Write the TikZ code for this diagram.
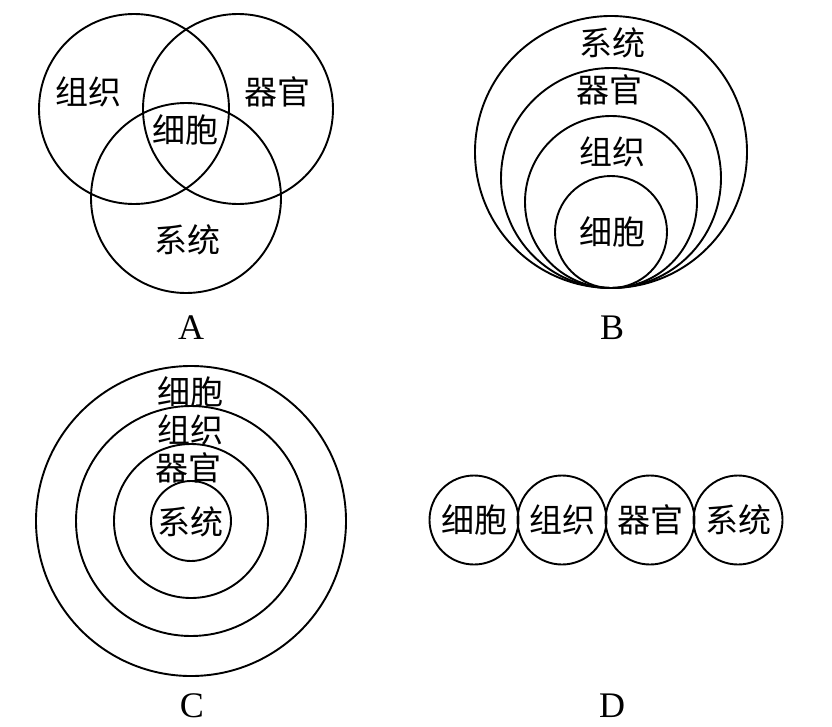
\documentclass[tikz,border=0pt]{standalone}
\usepackage{fontspec}
\setmainfont{Liberation Serif}
\newfontfamily\cjk{Noto Sans CJK SC}
\begin{document}
\begin{tikzpicture}[x=1pt,y=-1pt,
  ring/.style={circle,draw,line width=1.9pt,inner sep=0pt,minimum size=#1},
  word/.style={inner sep=0pt,font=\cjk\fontsize{33}{36}\selectfont},
  panel/.style={inner sep=0pt,font=\fontsize{36}{40}\selectfont}]
\useasboundingbox (0,0) rectangle (832,726);
% Panel A
\node[ring=190pt] (a1) at (134,109) {};
\node[ring=190pt] (a2) at (238,109) {};
\node[ring=190pt] (a3) at (186,198) {};
\node[word] (at1) at (88,92) {组织};
\node[word] (at2) at (277,92) {器官};
\node[word] (at3) at (185,130) {细胞};
\node[word] (at4) at (187,240) {系统};
\node[panel] (la) at (191,328) {A};
% Panel B
\node[ring=272pt] (b1) at (611,152) {};
\node[ring=220pt] (b2) at (611,178) {};
\node[ring=172pt] (b3) at (611,202) {};
\node[ring=112pt] (b4) at (611,232) {};
\node[word] (bt1) at (612,43) {系统};
\node[word] (bt2) at (609,90) {器官};
\node[word] (bt3) at (612,152) {组织};
\node[word] (bt4) at (612,232) {细胞};
\node[panel] (lb) at (612,328) {B};
% Panel C
\node[ring=310pt] (c1) at (191,521) {};
\node[ring=230pt] (c2) at (191,521) {};
\node[ring=154pt] (c3) at (191,521) {};
\node[ring=80pt] (c4) at (191,521) {};
\node[word] (ct1) at (190,392) {细胞};
\node[word] (ct2) at (190,430) {组织};
\node[word] (ct3) at (188,468) {器官};
\node[word] (ct4) at (190,522) {系统};
\node[panel] (lc) at (192,706) {C};
% Panel D
\node[ring=89pt] (d1) at (474,520) {};
\node[ring=89pt] (d2) at (562,520) {};
\node[ring=89pt] (d3) at (650,520) {};
\node[ring=89pt] (d4) at (738,520) {};
\node[word] (dt1) at (d1) {细胞};
\node[word] (dt2) at (d2) {组织};
\node[word] (dt3) at (d3) {器官};
\node[word] (dt4) at (d4) {系统};
\node[panel] (ld) at (612,706) {D};
\end{tikzpicture}
\end{document}
